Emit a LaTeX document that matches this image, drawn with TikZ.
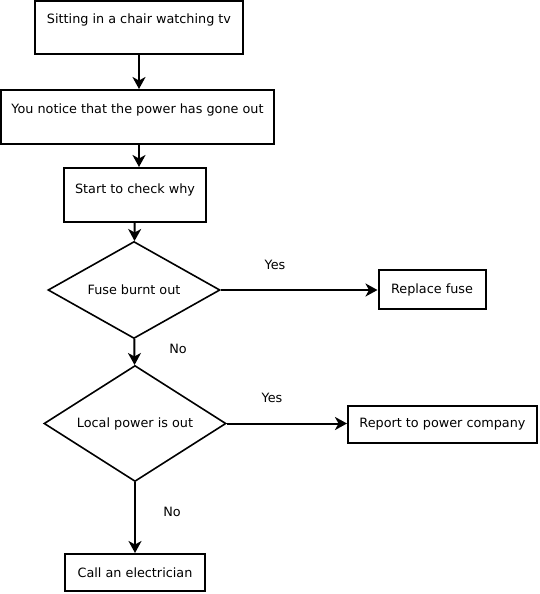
\documentclass[tikz,border=0pt]{standalone}
\usepackage{fontspec}
\setmainfont{DejaVu Sans}
\usetikzlibrary{shapes.geometric,arrows.meta}
\begin{document}
\begin{tikzpicture}[x=1pt,y=-1pt,
  font=\fontsize{12.8}{15}\selectfont,
  every node/.style={inner sep=0pt},
  topbox/.style={draw,line width=2pt,inner ysep=0pt},
  plainbox/.style={draw,line width=2pt},
  decision/.style={draw,diamond,aspect=2.5,line width=1.6pt,inner sep=0pt},
  flow/.style={line width=2pt,-{Stealth[length=12pt,width=13pt,inset=3.5pt]}},
  lbl/.style={font=\fontsize{12.8}{15}\selectfont}]
\useasboundingbox (0,0) rectangle (540,594);
\node[topbox,minimum width=208pt,text height=23pt,text depth=30pt] (b1) at (139,27.5) {Sitting in a chair watching tv};
\node[topbox,minimum width=273pt,text height=23pt,text depth=31pt] (b2) at (137.5,117) {You notice that the power has gone out};
\node[topbox,minimum width=142pt,text height=25pt,text depth=29pt] (b3) at (135,195) {Start to check why};
\node[decision,minimum width=172pt,minimum height=97pt] (d1) at (134,290) {Fuse burnt out};
\node[plainbox,minimum width=107pt,minimum height=39pt] (r1) at (432,289.5) {Replace fuse};
\node[decision,minimum width=182pt,minimum height=116pt] (d2) at (135,423.5) {Local power is out};
\node[plainbox,minimum width=189pt,minimum height=37pt] (r2) at (442.5,424.5) {Report to power company};
\node[plainbox,minimum width=140pt,minimum height=37pt] (c1) at (135,572.5) {Call an electrician};
\draw[flow] (b1.south) -- (b1.south |- b2.north);
\draw[flow] (b1.south |- b2.south) -- (b1.south |- b3.north);
\draw[flow] (b3) -- (d1);
\draw[flow] (d1.east) -- (d1.east -| r1.west);
\draw[flow] (d1) -- (d2);
\draw[flow] (d2.east) -- (d2.east -| r2.west);
\draw[flow] (d2) -- (c1);
\node[lbl] (y1) at (275,265) {Yes};
\node[lbl] (n1) at (178,349) {No};
\node[lbl] (y2) at (272,398) {Yes};
\node[lbl] (n2) at (172,512) {No};
\end{tikzpicture}
\end{document}
